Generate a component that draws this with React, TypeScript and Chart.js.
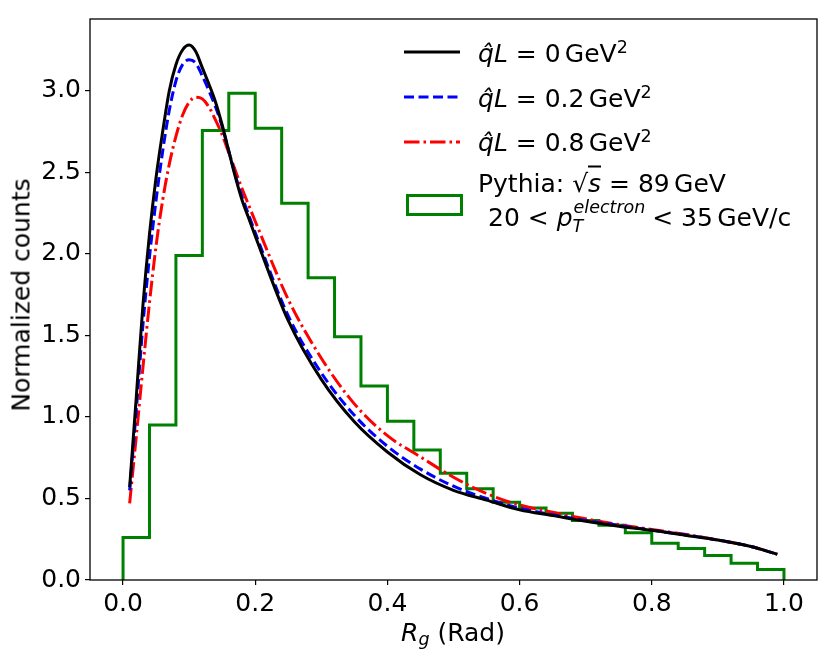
import React, { useEffect, useRef } from "react";
import { Chart, registerables } from "chart.js";

Chart.register(...registerables);

// ---- data ----
const histEdges = [
  0.0, 0.04, 0.08, 0.12, 0.16, 0.2, 0.24, 0.28, 0.32, 0.36, 0.4, 0.44, 0.48,
  0.52, 0.56, 0.6, 0.64, 0.68, 0.72, 0.76, 0.8, 0.84, 0.88, 0.92, 0.96, 1.0,
];
const histValues = [
  0.26, 0.95, 1.99, 2.757, 2.985, 2.77, 2.31, 1.853, 1.492, 1.19, 0.973, 0.797,
  0.655, 0.56, 0.476, 0.442, 0.41, 0.365, 0.335, 0.29, 0.225, 0.193, 0.15,
  0.103, 0.065,
];

const curveX = [
  0.01, 0.02, 0.03, 0.04, 0.05, 0.06, 0.07, 0.08, 0.09, 0.1, 0.11, 0.12, 0.13,
  0.14, 0.15, 0.16, 0.17, 0.18, 0.19, 0.2, 0.25, 0.3, 0.35, 0.4, 0.45, 0.5,
  0.55, 0.6, 0.65, 0.7, 0.75, 0.8, 0.85, 0.9, 0.95, 0.99,
];
const qL0 = [
  0.57, 1.12, 1.68, 2.12, 2.47, 2.75, 3.0, 3.16, 3.25, 3.28, 3.24, 3.14, 3.04,
  2.93, 2.79, 2.63, 2.47, 2.33, 2.22, 2.11, 1.59, 1.23, 0.97, 0.785, 0.645,
  0.55, 0.49, 0.43, 0.395, 0.36, 0.33, 0.305, 0.275, 0.245, 0.205, 0.158,
];
const qL02 = [
  0.55, 1.04, 1.56, 1.98, 2.33, 2.63, 2.88, 3.06, 3.16, 3.19, 3.17, 3.09, 3.0,
  2.9, 2.78, 2.63, 2.48, 2.35, 2.24, 2.13, 1.62, 1.27, 1.01, 0.82, 0.68, 0.575,
  0.5, 0.44, 0.4, 0.365, 0.335, 0.305, 0.278, 0.245, 0.205, 0.158,
];
const qL08 = [
  0.47, 0.88, 1.3, 1.7, 2.05, 2.33, 2.55, 2.72, 2.85, 2.93, 2.96, 2.95, 2.9,
  2.82, 2.73, 2.62, 2.51, 2.4, 2.3, 2.2, 1.72, 1.36, 1.08, 0.885, 0.755, 0.63,
  0.53, 0.46, 0.415, 0.375, 0.34, 0.31, 0.28, 0.245, 0.205, 0.158,
];

const xTicks = [0.0, 0.2, 0.4, 0.6, 0.8, 1.0];
const yTicks = [0.0, 0.5, 1.0, 1.5, 2.0, 2.5, 3.0];

const FONT = '"DejaVu Sans", sans-serif';
const FS = 25;

const framePlugin = {
  id: "frame",
  afterDraw(chart: any) {
    const { ctx, chartArea } = chart;
    ctx.save();
    ctx.strokeStyle = "#000";
    ctx.lineWidth = 1.3;
    ctx.strokeRect(
      chartArea.left,
      chartArea.top,
      chartArea.right - chartArea.left,
      chartArea.bottom - chartArea.top
    );
    ctx.restore();
  },
};

function LineSample({ color, dash }: { color: string; dash?: string }) {
  return (
    <svg width={56} height={10} style={{ display: "block" }}>
      <line
        x1={0}
        y1={5}
        x2={56}
        y2={5}
        stroke={color}
        strokeWidth={3}
        strokeDasharray={dash}
      />
    </svg>
  );
}

const sup: React.CSSProperties = {
  fontSize: "0.7em",
  verticalAlign: "0.5em",
  lineHeight: 0,
};

function QL({ v }: { v: string }) {
  return (
    <span>
      <i>{"q\u0302"}</i>
      <i>L</i>
      {" = "}
      {v}
      <span style={{ marginLeft: "0.17em" }}>GeV</span>
      <span style={sup}>2</span>
    </span>
  );
}

export default function App() {
  const ref = useRef<HTMLCanvasElement | null>(null);

  useEffect(() => {
    if (!ref.current) return;
    const histPoints: { x: number; y: number }[] = [{ x: histEdges[0], y: 0 }];
    histValues.forEach((v, i) => {
      histPoints.push({ x: histEdges[i], y: v });
      histPoints.push({ x: histEdges[i + 1], y: v });
    });
    histPoints.push({ x: histEdges[histEdges.length - 1], y: 0 });

    const mk = (ys: number[]) => curveX.map((x, i) => ({ x, y: ys[i] }));

    const chart = new Chart(ref.current, {
      type: "line",
      data: {
        datasets: [
          {
            data: mk(qL0),
            borderColor: "#000000",
            borderWidth: 3,
            pointRadius: 0,
            cubicInterpolationMode: "monotone",
          },
          {
            data: mk(qL02),
            borderColor: "#0000ff",
            borderWidth: 3,
            borderDash: [10, 4.5],
            pointRadius: 0,
            cubicInterpolationMode: "monotone",
          },
          {
            data: mk(qL08),
            borderColor: "#ff0000",
            borderWidth: 3,
            borderDash: [15.5, 4, 2.5, 4],
            pointRadius: 0,
            cubicInterpolationMode: "monotone",
          },
          {
            data: histPoints,
            borderColor: "#008000",
            borderWidth: 3,
            pointRadius: 0,
            tension: 0,
            borderJoinStyle: "miter",
          },
        ],
      },
      options: {
        responsive: false,
        animation: false,
        devicePixelRatio: 1,
        layout: { padding: { left: 0, right: 14, top: 9, bottom: 0 } },
        plugins: {
          legend: { display: false },
          tooltip: { enabled: false },
        },
        scales: {
          x: {
            type: "linear",
            min: -0.05,
            max: 1.05,
            afterBuildTicks: (s: any) => {
              s.ticks = xTicks.map((v) => ({ value: v }));
            },
            afterFit: (s: any) => {
              s.height = 79;
            },
            ticks: {
              font: { family: FONT, size: FS },
              color: "#000",
              padding: 4,
              maxRotation: 0,
              callback: (v: any) => Number(v).toFixed(1),
            },
            grid: {
              display: true,
              drawOnChartArea: false,
              drawTicks: true,
              tickLength: 5,
              color: "#000",
              lineWidth: 1.2,
            },
            border: { display: false },
          },
          y: {
            type: "linear",
            min: 0,
            max: 3.44,
            afterBuildTicks: (s: any) => {
              s.ticks = yTicks.map((v) => ({ value: v }));
            },
            afterFit: (s: any) => {
              s.width = 90;
            },
            ticks: {
              font: { family: FONT, size: FS },
              color: "#000",
              padding: 4,
              callback: (v: any) => Number(v).toFixed(1),
            },
            grid: {
              display: true,
              drawOnChartArea: false,
              drawTicks: true,
              tickLength: 5,
              color: "#000",
              lineWidth: 1.2,
            },
            border: { display: false },
          },
        },
      },
      plugins: [framePlugin],
    } as any);
    return () => chart.destroy();
  }, []);

  const text: React.CSSProperties = {
    position: "absolute",
    fontFamily: FONT,
    fontSize: FS,
    color: "#000",
    whiteSpace: "nowrap",
    lineHeight: 1,
  };

  return (
    <div
      style={{
        position: "absolute",
        left: 0,
        top: 0,
        width: 831,
        height: 659,
        background: "#fff",
        overflow: "hidden",
      }}
    >
      <canvas ref={ref} width={831} height={659} style={{ display: "block" }} />

      {/* y axis title */}
      <div
        style={{
          ...text,
          left: 21,
          top: 295,
          transform: "translate(-50%, -50%) rotate(-90deg)",
        }}
      >
        Normalized counts
      </div>

      {/* x axis title */}
      <div
        style={{
          ...text,
          left: 453,
          top: 632,
          transform: "translate(-50%, -50%)",
        }}
      >
        <i>R</i>
        <sub style={{ fontSize: "0.7em", verticalAlign: "-0.25em", lineHeight: 0 }}>
          <i>g</i>
        </sub>{" "}
        (Rad)
      </div>

      {/* legend */}
      <div style={{ position: "absolute", left: 404, top: 47 }}>
        <LineSample color="#000000" />
      </div>
      <div style={{ ...text, left: 478, top: 53, transform: "translateY(-50%)" }}>
        <QL v="0" />
      </div>

      <div style={{ position: "absolute", left: 404, top: 92 }}>
        <LineSample color="#0000ff" dash="10 4.5" />
      </div>
      <div style={{ ...text, left: 478, top: 98, transform: "translateY(-50%)" }}>
        <QL v="0.2" />
      </div>

      <div style={{ position: "absolute", left: 404, top: 137 }}>
        <LineSample color="#ff0000" dash="15.5 4 2.5 4" />
      </div>
      <div style={{ ...text, left: 478, top: 142, transform: "translateY(-50%)" }}>
        <QL v="0.8" />
      </div>

      <div
        style={{
          position: "absolute",
          left: 406,
          top: 194,
          width: 51,
          height: 16,
          border: "3px solid #008000",
        }}
      />
      <div style={{ ...text, left: 478, top: 183, transform: "translateY(-50%)" }}>
        Pythia: √
        <span style={{ borderTop: "2px solid #000", paddingTop: 1 }}>
          <i>s</i>
        </span>
        {" = 89"}
        <span style={{ marginLeft: "0.17em" }}>GeV</span>
      </div>
      <div style={{ ...text, left: 488, top: 217, transform: "translateY(-50%)" }}>
        {"20 < "}
        <i>p</i>
        <span
          style={{
            display: "inline-block",
            position: "relative",
            width: "4.1em",
            height: "1em",
            verticalAlign: "baseline",
            fontSize: "0.7em",
          }}
        >
          <i style={{ position: "absolute", left: 1, top: "-0.55em" }}>electron</i>
          <i style={{ position: "absolute", left: 0, top: "0.55em" }}>T</i>
        </span>
        {" < 35"}
        <span style={{ marginLeft: "0.17em" }}>GeV/c</span>
      </div>
    </div>
  );
}
